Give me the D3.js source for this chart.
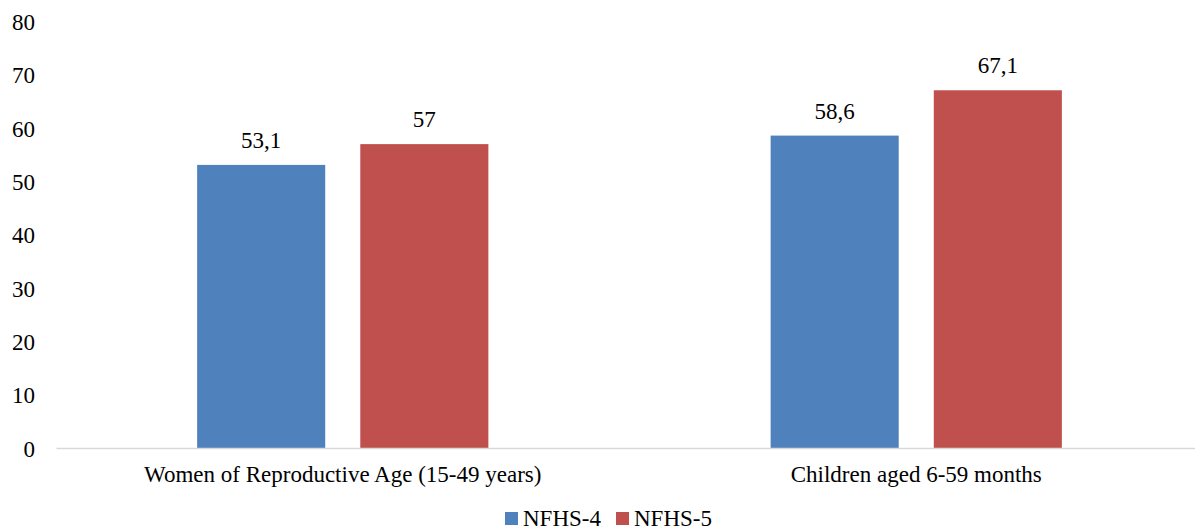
<!DOCTYPE html>
<html>
<head>
<meta charset="utf-8">
<script src="https://cdn.jsdelivr.net/npm/d3@7"></script>
<style>
    body { margin: 0; background: #fff; font-family: 'Times New Roman'; }
    svg, svg text { font-family: 'Times New Roman'; }
</style>
</head>
<body>
<div class="chart-container"></div>
<script>
// Data
const categories = ['Women of Reproductive Age (15-49 years)', 'Children aged 6-59 months'];
const seriesNames = ['NFHS-4', 'NFHS-5'];
const seriesColors = ['#4F81BD', '#C0504D'];
const nfhs4 = [53.1, 58.6];
const nfhs5 = [57, 67.1];
const yTicks = [0, 10, 20, 30, 40, 50, 60, 70, 80];

const seriesValues = [nfhs4, nfhs5];

const FONT = 'Times New Roman';
const FONT_SIZE = 23;

// Layout
const svgWidth = 1195;
const svgHeight = 529;
const margin = { top: 21.5, right: -8, bottom: 81, left: 56 };
const width = svgWidth - margin.left - margin.right;
const height = svgHeight - margin.top - margin.bottom;

const svg = d3.select('.chart-container')
    .append('svg')
    .attr('width', svgWidth)
    .attr('height', svgHeight)
    .attr('font-family', FONT);

const g = svg.append('g')
    .attr('transform', 'translate(' + margin.left + ',' + margin.top + ')');

// Scales
const x0 = d3.scaleBand()
    .domain(categories)
    .range([0, width])
    .padding(0);

const x1 = d3.scaleBand()
    .domain(seriesNames)
    .range([0, x0.bandwidth()])
    .paddingInner(0.215)
    .paddingOuter(0.865);

const yScale = d3.scaleLinear()
    .domain([0, 80])
    .range([height, 0]);

// Y axis (labels only)
const yAxis = d3.axisLeft(yScale)
    .tickValues(yTicks)
    .tickSize(0)
    .tickPadding(21);

const yAxisDraw = g.append('g').attr('class', 'y axis');
yAxis(yAxisDraw);
yAxisDraw.attr('font-family', FONT).attr('font-size', FONT_SIZE);
yAxisDraw.select('.domain').remove();
yAxisDraw.selectAll('text')
    .attr('font-family', FONT)
    .attr('fill', '#000')
    .attr('dy', '0.35em');

// Bars
const groups = g.selectAll('.group')
    .data(categories)
    .enter()
    .append('g')
    .attr('class', 'group')
    .attr('transform', d => 'translate(' + x0(d) + ',0)');

groups.each(function(cat, ci) {
    const grp = d3.select(this);
    seriesNames.forEach((s, si) => {
        const v = seriesValues[si][ci];
        grp.append('rect')
            .attr('x', x1(s))
            .attr('y', yScale(v))
            .attr('width', x1.bandwidth())
            .attr('height', height - yScale(v))
            .style('fill', seriesColors[si]);
        grp.append('text')
            .attr('x', x1(s) + x1.bandwidth() / 2)
            .attr('y', yScale(v) - 17)
            .attr('text-anchor', 'middle')
            .attr('font-family', FONT)
            .attr('font-size', FONT_SIZE)
            .attr('fill', '#000')
            .text(String(v).replace('.', ','));
    });
});

// X axis
const xAxis = d3.axisBottom(x0)
    .tickSize(0)
    .tickPadding(18);

const xAxisDraw = g.append('g')
    .attr('class', 'x axis')
    .attr('transform', 'translate(0,' + height + ')');
xAxis(xAxisDraw);
xAxisDraw.attr('font-family', FONT).attr('font-size', FONT_SIZE);
xAxisDraw.select('.domain')
    .attr('stroke', '#d9d9d9')
    .attr('stroke-width', 1.5);
xAxisDraw.selectAll('text')
    .attr('font-family', FONT)
    .attr('fill', '#000');

// Legend
const legend = svg.append('g')
    .attr('transform', 'translate(505,512)');

const legendOffsets = [0, 111];
seriesNames.forEach((s, i) => {
    const item = legend.append('g')
        .attr('transform', 'translate(' + legendOffsets[i] + ',0)');
    item.append('rect')
        .attr('width', 13)
        .attr('height', 13)
        .style('fill', seriesColors[i]);
    item.append('text')
        .attr('x', 18)
        .attr('y', 13.5)
        .attr('font-family', FONT)
        .attr('font-size', FONT_SIZE)
        .attr('fill', '#000')
        .text(s);
});
</script>
</body>
</html>
